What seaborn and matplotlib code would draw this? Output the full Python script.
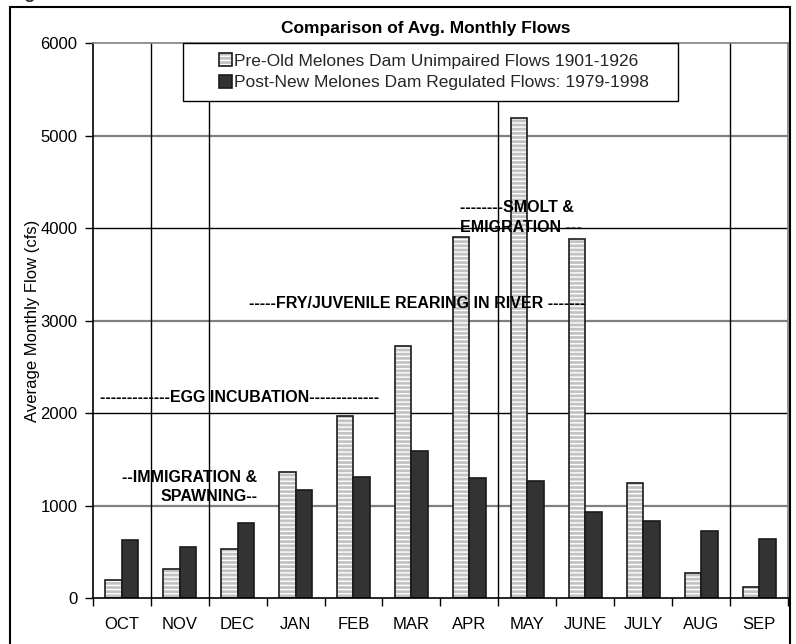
import numpy as np
import pandas as pd
import matplotlib
matplotlib.use('Agg')
import matplotlib.pyplot as plt
from matplotlib.colors import to_rgba
from matplotlib.patches import Rectangle
from matplotlib.legend_handler import HandlerPatch
import seaborn as sns

## Data
MONTHS = ['OCT', 'NOV', 'DEC', 'JAN', 'FEB', 'MAR', 'APR', 'MAY', 'JUNE', 'JULY', 'AUG', 'SEP']
PRE_DAM = [190, 310, 526, 1362, 1968, 2720, 3900, 5190, 3880, 1247, 274, 119]
POST_DAM = [627, 548, 814, 1171, 1312, 1586, 1301, 1268, 930, 836, 728, 638]
SERIES = ['Pre-Old Melones Dam Unimpaired Flows 1901-1926',
          'Post-New Melones Dam Regulated Flows: 1979-1998']
Y_TICKS = [0, 1000, 2000, 3000, 4000, 5000, 6000]
# months where a new life-stage period begins (drawn as vertical separators)
PERIOD_STARTS = ['NOV', 'DEC', 'MAY', 'SEP']

df = pd.DataFrame({
    'month': MONTHS * 2,
    'flow': PRE_DAM + POST_DAM,
    'series': [SERIES[0]] * len(MONTHS) + [SERIES[1]] * len(MONTHS),
})

sns.set_theme(style='white')
plt.rcParams['font.family'] = ['Liberation Sans', 'DejaVu Sans']
plt.rcParams['hatch.linewidth'] = 1.0


def squareHandle(legend, orig_handle, xdescent, ydescent, width, height, fontsize):
    ''' Small square pushed to the right end of the handle box '''
    side = 0.75 * fontsize
    return Rectangle((width - side - xdescent, -ydescent + (height - side) / 2), side, side)


fig = plt.figure(figsize=(7.96, 6.44), dpi=100)
ax = fig.add_axes([0.1165, 0.0714, 0.8735, 0.8618])

# Gridlines first so bars sit on top
for v in Y_TICKS[1:-1]:
    ax.axhline(v, color='black' if v % 2000 == 0 else '#808080',
               lw=1.0 if v % 2000 == 0 else 1.6, zorder=0)
for m in PERIOD_STARTS:
    ax.axvline(MONTHS.index(m) - 0.5, color='black', lw=1.0, zorder=0)

sns.barplot(data=df, x='month', y='flow', hue='series', order=MONTHS,
            palette=['#c2c2c2', '#333333'], width=0.57, gap=0,
            edgecolor='#1a1a1a', linewidth=1.2, saturation=1, ax=ax, zorder=2)

# white wave-like pattern on the pre-dam bars
for p in ax.containers[0].patches:
    p.set_hatch('----')
    p._hatch_color = to_rgba('white')

ax.set_xlim(-0.5, len(MONTHS) - 0.5)
ax.set_ylim(0, 6000)
ax.set_yticks(Y_TICKS)
ax.set_yticklabels([str(v) for v in Y_TICKS])
ax.set_xticks(np.arange(-0.5, len(MONTHS), 1), minor=True)
ax.tick_params(axis='x', which='major', length=0, pad=14, labelsize=12, colors='black')
ax.tick_params(axis='x', which='minor', length=6, width=1, color='black', bottom=True)
ax.tick_params(axis='y', length=6, width=1, color='black', left=True, pad=5,
               labelsize=12, labelcolor='black')

ax.set_xlabel('')
ax.set_ylabel('Average Monthly Flow (cfs)', fontsize=12, color='black')
ax.yaxis.set_label_coords(-0.076, 0.5)

for side in ('top', 'right'):
    ax.spines[side].set_color('#808080')
    ax.spines[side].set_linewidth(1.2)
for side in ('left', 'bottom'):
    ax.spines[side].set_color('black')
    ax.spines[side].set_linewidth(1.2)

# Legend
handles = [c.patches[0] for c in ax.containers]
leg = ax.legend(handles, SERIES, loc='upper left', mode='expand',
                bbox_to_anchor=(183 / 796, 1 - 98 / 644, 495 / 796, 55 / 644),
                bbox_transform=fig.transFigure,
                handler_map={Rectangle: HandlerPatch(patch_func=squareHandle)},
                borderaxespad=0, fancybox=False, framealpha=1, edgecolor='black',
                fontsize=12.5, handlelength=2.2, handleheight=0.75, handletextpad=0.15,
                labelspacing=0.35, borderpad=0.6)
leg.get_frame().set_linewidth(1.0)
leg.set_zorder(5)

# Life-stage annotations
note = dict(fontsize=11.5, fontweight='bold', color='black', zorder=4)
ax.text(2.04, 2173, '-------------EGG INCUBATION-------------', ha='center', va='center', **note)
ax.text(2.34, 1200, '--IMMIGRATION &\nSPAWNING--', ha='right', va='center',
        multialignment='right', linespacing=1.35, **note)
ax.text(5.10, 3189, '-----FRY/JUVENILE REARING IN RIVER -------', ha='center', va='center', **note)
ax.text(5.84, 4114, '--------SMOLT &\nEMIGRATION ---', ha='left', va='center',
        multialignment='left', linespacing=1.35, **note)

fig.text(426 / 796, 1 - 28 / 644, 'Comparison of Avg. Monthly Flows', ha='center', va='center',
         fontsize=12.5, fontweight='bold', color='black')
fig.text(10 / 796, 1.0015, 'Figure', ha='left', va='baseline', fontsize=12.5, fontweight='bold')

# outer chart border
fig.patches.append(Rectangle((10 / 796, -0.01), 780 / 796, 0.01 + 1 - 7 / 644, transform=fig.transFigure,
                             fill=False, edgecolor='black', lw=1.5))

fig.savefig('out.png', dpi=100)
